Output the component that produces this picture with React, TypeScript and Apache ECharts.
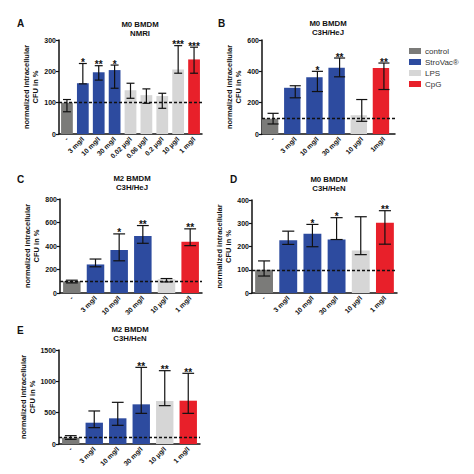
import React, { useEffect, useRef } from "react";
import * as echarts from "echarts";

const GROUP_NAMES = ["control", "StroVac®", "LPS", "CpG"];
const GROUP_COLORS = ["#7b7b79", "#2d4b9f", "#d6d6d6", "#e8202a"];

// Panel A: M0 BMDM NMRI
const A_CATEGORIES = ["-", "3 mg/l", "10 mg/l", "30 mg/l", "0.02 µg/l", "0.06 µg/l", "0.2 µg/l", "10 µg/l", "1 mg/l"];
const A_GROUPS = [0, 1, 1, 1, 2, 2, 2, 2, 3];
const A_MEANS = [100, 162, 197, 204, 140, 124, 121, 206, 238];
const A_LOW = [71, 160, 172, 146, 114, 98, 82, 194, 194];
const A_HIGH = [110, 225, 218, 220, 162, 144, 130, 282, 277];
const A_STARS = ["", "*", "**", "*", "", "", "", "***", "***"];

// Panel B: M0 BMDM C3H/HeJ
const B_CATEGORIES = ["-", "3 mg/l", "10 mg/l", "30 mg/l", "10 µg/l", "1mg/l"];
const B_GROUPS = [0, 1, 1, 1, 2, 3];
const B_MEANS = [98, 295, 363, 423, 120, 421];
const B_LOW = [64, 231, 271, 365, 81, 284];
const B_HIGH = [132, 308, 400, 485, 220, 453];
const B_STARS = ["", "", "*", "**", "", "**"];

// Panel C: M2 BMDM C3H/HeJ
const C_CATEGORIES = ["-", "3 mg/l", "10 mg/l", "30 mg/l", "10 µg/l", "1 mg/l"];
const C_GROUPS = [0, 1, 1, 1, 2, 3];
const C_MEANS = [100, 243, 366, 486, 117, 437];
const C_LOW = [86, 223, 274, 423, 94, 403];
const C_HIGH = [109, 289, 503, 574, 123, 546];
const C_STARS = ["", "", "*", "**", "", "**"];

// Panel D: M0 BMDM C3H/HeN
const D_CATEGORIES = ["-", "3 mg/l", "10 mg/l", "30 mg/l", "10 µg/l", "1 mg/l"];
const D_GROUPS = [0, 1, 1, 1, 2, 3];
const D_MEANS = [100, 227, 255, 230, 183, 302];
const D_LOW = [73, 209, 199, 230, 165, 210];
const D_HIGH = [138, 266, 295, 324, 328, 354];
const D_STARS = ["", "", "*", "*", "", "**"];

// Panel E: M2 BMDM C3H/HeN
const E_CATEGORIES = ["-", "3 mg/l", "10 mg/l", "30 mg/l", "10 µg/l", "1 mg/l"];
const E_GROUPS = [0, 1, 1, 1, 2, 3];
const E_MEANS = [101, 340, 410, 633, 686, 691];
const E_LOW = [74, 261, 298, 489, 612, 489];
const E_HIGH = [133, 527, 665, 1223, 1170, 1128];
const E_STARS = ["", "", "", "**", "**", "**"];

const Y_MAX = [300, 600, 800, 400, 1500];
const Y_INTERVAL = [100, 200, 200, 100, 500];
const BASELINE = 100;

const FONT = "'Liberation Sans', Arial, sans-serif";

export default function App() {
  const ref = useRef<HTMLDivElement>(null);
  useEffect(() => {
    if (!ref.current) return;
    const chart = echarts.init(ref.current, undefined, { renderer: "svg" });

    const panels = [
      { cats: A_CATEGORIES, groups: A_GROUPS, means: A_MEANS, low: A_LOW, high: A_HIGH, stars: A_STARS, grid: { left: 59, top: 40, width: 143, height: 94 } },
      { cats: B_CATEGORIES, groups: B_GROUPS, means: B_MEANS, low: B_LOW, high: B_HIGH, stars: B_STARS, grid: { left: 262, top: 40, width: 133, height: 94 } },
      { cats: C_CATEGORIES, groups: C_GROUPS, means: C_MEANS, low: C_LOW, high: C_HIGH, stars: C_STARS, grid: { left: 60, top: 199, width: 142, height: 94 } },
      { cats: D_CATEGORIES, groups: D_GROUPS, means: D_MEANS, low: D_LOW, high: D_HIGH, stars: D_STARS, grid: { left: 252, top: 200, width: 145, height: 93 } },
      { cats: E_CATEGORIES, groups: E_GROUPS, means: E_MEANS, low: E_LOW, high: E_HIGH, stars: E_STARS, grid: { left: 59, top: 350, width: 141, height: 94 } },
    ];

    const titles = [
      { l1: "M0 BMDM", l2: "NMRI", x: 140, y: 20, letter: "A", lx: 17, ly: 18 },
      { l1: "M0 BMDM", l2: "C3H/HeJ", x: 328, y: 19, letter: "B", lx: 218, ly: 18 },
      { l1: "M2 BMDM", l2: "C3H/HeJ", x: 132, y: 174, letter: "C", lx: 17, ly: 174 },
      { l1: "M0 BMDM", l2: "C3H/HeN", x: 329, y: 175, letter: "D", lx: 230, ly: 174 },
      { l1: "M2 BMDM", l2: "C3H/HeN", x: 130, y: 325, letter: "E", lx: 17, ly: 325 },
    ];

    const grids: any[] = [];
    const xAxes: any[] = [];
    const yAxes: any[] = [];
    const series: any[] = [];
    const graphics: any[] = [];

    panels.forEach((p, i) => {
      grids.push({ ...p.grid, containLabel: false });
      xAxes.push({
        type: "category",
        gridIndex: i,
        data: p.cats,
        axisLine: { lineStyle: { color: "#111", width: 1.5 } },
        axisTick: { alignWithLabel: true, length: 3, lineStyle: { color: "#111", width: 1.2 } },
        axisLabel: { interval: 0, rotate: 45, margin: 4, fontSize: 6.8, fontWeight: "bold", color: "#111", fontFamily: FONT },
      });
      yAxes.push({
        type: "value",
        gridIndex: i,
        min: 0,
        max: Y_MAX[i],
        interval: Y_INTERVAL[i],
        splitLine: { show: false },
        axisLine: { show: true, lineStyle: { color: "#111", width: 1.5 } },
        axisTick: { show: true, length: 3, lineStyle: { color: "#111", width: 1.2 } },
        axisLabel: { margin: 3, fontSize: 7, fontWeight: "bold", color: "#111", fontFamily: FONT, formatter: (v: number) => String(v) },
        name: "normalized intracellular\nCFU in %",
        nameLocation: "middle",
        nameRotate: 90,
        nameGap: 14,
        nameTextStyle: { fontSize: 7.5, fontWeight: "bold", color: "#111", fontFamily: FONT, lineHeight: 9 },
      });
      series.push({
        type: "bar",
        xAxisIndex: i,
        yAxisIndex: i,
        barWidth: "74%",
        data: p.means.map((v, k) => ({ value: v, itemStyle: { color: GROUP_COLORS[p.groups[k]] } })),
        markLine: {
          silent: true,
          symbol: "none",
          label: { show: false },
          lineStyle: { type: [3, 2], color: "#111", width: 1.4 },
          data: [{ yAxis: BASELINE }],
          z: 10,
        },
      });
      const stars = p.stars;
      series.push({
        type: "custom",
        xAxisIndex: i,
        yAxisIndex: i,
        z: 5,
        data: p.means.map((_, k) => [k, p.low[k], p.high[k]]),
        renderItem: (params: any, api: any) => {
          const x = api.value(0);
          const lo = api.coord([x, api.value(1)]);
          const hi = api.coord([x, api.value(2)]);
          const w = api.size([1, 0])[0] * 0.5;
          const style = { stroke: "#111", lineWidth: 1.2 };
          const children: any[] = [
            { type: "line", shape: { x1: lo[0], y1: lo[1], x2: hi[0], y2: hi[1] }, style },
            { type: "line", shape: { x1: hi[0] - w / 2, y1: hi[1], x2: hi[0] + w / 2, y2: hi[1] }, style },
            { type: "line", shape: { x1: lo[0] - w / 2, y1: lo[1], x2: lo[0] + w / 2, y2: lo[1] }, style },
          ];
          const s = stars[params.dataIndex];
          if (s) {
            children.push({
              type: "text",
              style: { text: s, x: hi[0], y: hi[1] + 4, textAlign: "center", textVerticalAlign: "bottom", font: `bold 10px ${FONT}`, fill: "#111" },
            });
          }
          return { type: "group", children };
        },
      });

      const t = titles[i];
      graphics.push({
        type: "text",
        style: { text: `${t.l1}\n${t.l2}`, x: t.x, y: t.y, textAlign: "center", textVerticalAlign: "top", font: `bold 7.8px ${FONT}`, fill: "#111", lineHeight: 9 },
      });
      graphics.push({
        type: "text",
        style: { text: t.letter, x: t.lx, y: t.ly, textAlign: "left", textVerticalAlign: "top", font: `bold 10px ${FONT}`, fill: "#111" },
      });
    });

    GROUP_NAMES.forEach((name, k) => {
      series.push({ type: "bar", name, xAxisIndex: 1, yAxisIndex: 1, data: [], itemStyle: { color: GROUP_COLORS[k] } });
    });

    chart.setOption({
      animation: false,
      backgroundColor: "#fff",
      grid: grids,
      xAxis: xAxes,
      yAxis: yAxes,
      series,
      graphic: graphics,
      legend: {
        data: GROUP_NAMES.map((n) => ({ name: n, icon: "rect" })),
        orient: "vertical",
        left: 404,
        top: 42,
        itemWidth: 12,
        itemHeight: 6,
        itemGap: 3,
        selectedMode: false,
        textStyle: { fontSize: 8, color: "#333", fontFamily: FONT, padding: [0, 0, 0, -1] },
      },
    });
    return () => chart.dispose();
  }, []);
  return <div ref={ref} style={{ position: "fixed", left: 0, top: 0, width: 474, height: 474 }} />;
}
